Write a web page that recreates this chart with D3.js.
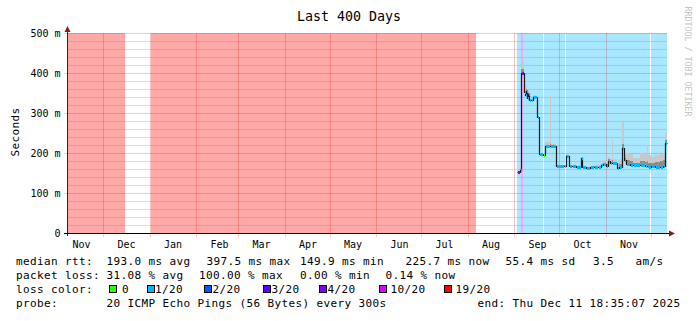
<!DOCTYPE html>
<html lang="en">
<head>
<meta charset="UTF-8" />
<title>Last 400 Days</title>
<script src="https://d3js.org/d3.v7.min.js"></script>
<style>
  body { margin: 0; background: #fff; }
  svg { display: block; font-family: "DejaVu Sans Mono", monospace; }
  .legend text { font-size: 11px; letter-spacing: 0.38px; fill: #000; }
</style>
</head>
<body>
<svg id="chart" width="697" height="321"></svg>
<script>
// time window of the graph
const rangeStart = '2024-11-06T18:35:07Z'
const rangeEnd = '2025-12-11T18:35:07Z'

// y axis (ms)
const yTicks = [0, 100, 200, 300, 400, 500]
const yTickLabels = ['0', '100 m', '200 m', '300 m', '400 m', '500 m']
const monthNames = ['Jan', 'Feb', 'Mar', 'Apr', 'May', 'Jun', 'Jul', 'Aug', 'Sep', 'Oct', 'Nov', 'Dec']

// loss colours (smokeping defaults)
const lossSteps = [0, 1, 2, 3, 4, 10, 19]
const lossKeys = ['0', '1/20', '2/20', '3/20', '4/20', '10/20', '19/20']
const lossColors = ['#26ff00', '#00b8ff', '#0059ff', '#5e00ff', '#7e00ff', '#dd00ff', '#ff0000']

// loss background spans (from, to, lost pings of 20)
const spanFrom = ['2024-11-06T18:35:07Z', '2025-01-01T18:35Z', '2025-09-02T13:45Z', '2025-09-05T10:40Z',
  '2025-09-06T23:00Z', '2025-09-21T02:30Z', '2025-10-05T13:40Z', '2025-12-01T10:40Z']
const spanTo = ['2024-12-15T10:40Z', '2025-08-06T10:40Z', '2025-09-05T10:40Z', '2025-09-06T23:00Z',
  '2025-09-20T10:30Z', '2025-10-04T21:40Z', '2025-11-30T18:35Z', '2025-12-11T18:35:07Z']
const spanLoss = [19, 19, 1, 10, 1, 1, 1, 1]

// median rtt steps (ms), smoke and loss per step
const medianTime = ['2025-09-02T13:45', '2025-09-04T18:30', '2025-09-05T18:30', '2025-09-07T02:40',
  '2025-09-08T02:40', '2025-09-08T18:30', '2025-09-09T10:30', '2025-09-10T02:40', '2025-09-10T18:30',
  '2025-09-12T02:40', '2025-09-13T15:20', '2025-09-16T02:40', '2025-09-17T10:30', '2025-09-20T10:30',
  '2025-09-21T10:30', '2025-09-24T18:30', '2025-09-25T10:30', '2025-09-28T23:20', '2025-10-04T00:00',
  '2025-10-05T10:30', '2025-10-07T02:40', '2025-10-09T10:30', '2025-10-12T02:40', '2025-10-15T05:45',
  '2025-10-16T02:40', '2025-10-18T18:30', '2025-10-21T10:30', '2025-10-24T02:40', '2025-10-26T18:30',
  '2025-10-28T18:30', '2025-10-30T02:40', '2025-11-01T02:40', '2025-11-02T10:30', '2025-11-03T18:30',
  '2025-11-04T21:50', '2025-11-05T18:30', '2025-11-08T05:45', '2025-11-09T23:20', '2025-11-11T23:20',
  '2025-11-13T07:20', '2025-11-14T10:30', '2025-11-17T02:40', '2025-11-19T00:00', '2025-11-23T18:30',
  '2025-11-27T02:40', '2025-11-28T05:45', '2025-11-29T02:40', '2025-12-01T10:30', '2025-12-03T18:30',
  '2025-12-07T02:40', '2025-12-09T07:20', '2025-12-10T05:45']
const medianMs = [152, 158, 399, 352, 345, 355, 338, 348, 333, 332, 341, 290, 197, 196, 218, 218, 218, 168, 168,
  193, 168, 167, 166, 187, 164, 163, 165, 166, 164, 170, 172, 168, 180, 174, 176, 174, 162, 166, 212,
  182, 172, 170, 169, 169, 167, 168, 166, 167, 166, 166, 167, 226]
const smokeMidMs = [153, 159, 410, 360, 350, 360, 343, 350, 335, 334, 343, 291, 198, 197, 220, 222, 220, 169, 169,
  194, 169, 168, 167, 188, 165, 164, 166, 167, 166, 172, 175, 172, 184, 178, 182, 178, 166, 172, 222,
  188, 182, 180, 176, 180, 178, 180, 176, 175, 178, 180, 182, 232]
const smokeMaxMs = [156, 162, 430, 385, 362, 370, 352, 358, 340, 336, 345, 292, 199, 198, 228, 342, 222, 170, 170,
  196, 170, 169, 169, 190, 167, 166, 168, 169, 170, 176, 182, 180, 190, 186, 232, 185, 175, 185, 278,
  200, 200, 198, 187, 200, 198, 220, 195, 190, 196, 198, 200, 250]
const medianLoss = [4, 1, 4, 1, 1, 1, 1, 1, 1, 1, 1, 1, 1, 0, 1, 1, 1, 1, 0,
  1, 1, 1, 1, 1, 1, 1, 1, 1, 1, 1, 1, 1, 1, 1, 1, 1, 1, 1, 1,
  1, 1, 1, 1, 1, 1, 1, 1, 1, 1, 1, 1, 1]

// legend rows
const legendRows = [
  [[16, 'median rtt:'], [106.5, '193.0 ms avg'], [206.5, '397.5 ms max'], [300, '149.9 ms min'],
   [405.5, '225.7 ms now'], [505.5, '55.4 ms sd'], [593, '3.5'], [635.5, 'am/s']],
  [[16, 'packet loss:'], [106.5, '31.08 % avg'], [199, '100.00 % max'], [300, '0.00 % min'], [385.5, '0.14 % now']],
  [[16, 'loss color:']],
  [[16, 'probe:'], [106.5, '20 ICMP Echo Pings (56 Bytes) every 300s'], [477.5, 'end: Thu Dec 11 18:35:07 2025']]
]
const keyBoxX = [109, 146.5, 204, 263, 319, 379, 444]
const keyTextX = [122, 155, 212.5, 271.5, 327.5, 390.5, 455.5]

const svg = d3.select('#chart')
const t0 = new Date(rangeStart), t1 = new Date(rangeEnd)
const x = d3.scaleUtc().domain([t0, t1]).range([67, 667])
const y = d3.scaleLinear().domain([0, 500]).range([233, 33])
const px = d => Math.round(x(d))
const lossColor = l => lossColors[lossSteps.indexOf(l)]

// loss background
svg.append('g').selectAll('rect')
  .data(spanLoss.map((l, i) => ({ a: new Date(spanFrom[i]), b: new Date(spanTo[i]), l })))
  .join('rect')
  .attr('x', d => px(d.a))
  .attr('width', d => px(d.b) - px(d.a))
  .attr('y', y(500))
  .attr('height', y(0) - y(500))
  .attr('fill', d => lossColor(d.l))
  .attr('fill-opacity', 0.34)
  .attr('shape-rendering', 'crispEdges')

// grid
const grid = svg.append('g').attr('shape-rendering', 'crispEdges')
grid.selectAll('line.minor')
  .data(d3.range(0, 501, 20).filter(v => v % 100 !== 0))
  .join('line')
  .attr('x1', 67).attr('x2', 667)
  .attr('y1', d => Math.round(y(d)) + 0.5).attr('y2', d => Math.round(y(d)) + 0.5)
  .attr('stroke', 'rgba(120,120,120,0.25)')
grid.selectAll('line.major')
  .data(yTicks)
  .join('line')
  .attr('x1', 64).attr('x2', 667)
  .attr('y1', d => Math.round(y(d)) + 0.5).attr('y2', d => Math.round(y(d)) + 0.5)
  .attr('stroke', 'rgba(220,0,0,0.22)')
const months = d3.utcMonths(d3.utcMonth.floor(t0), t1).filter(m => m > t0)
grid.selectAll('line.month')
  .data(months)
  .join('line')
  .attr('x1', d => px(d) + 0.5).attr('x2', d => px(d) + 0.5)
  .attr('y1', y(500)).attr('y2', 237)
  .attr('stroke', 'rgba(220,0,0,0.22)')

// smoke
const steps = medianTime.map((t, i) => ({
  a: new Date(t + 'Z'),
  b: i < medianTime.length - 1 ? new Date(medianTime[i + 1] + 'Z') : t1,
  v: medianMs[i], mid: smokeMidMs[i], max: smokeMaxMs[i], l: medianLoss[i]
}))
const smoke = svg.append('g').attr('shape-rendering', 'crispEdges')
smoke.selectAll('rect.hi')
  .data(steps)
  .join('rect')
  .attr('x', d => px(d.a)).attr('width', d => Math.max(1, px(d.b) - px(d.a)))
  .attr('y', d => y(d.max)).attr('height', d => y(d.v) - y(d.max))
  .attr('fill', '#c8c8c8')
smoke.selectAll('rect.mid')
  .data(steps)
  .join('rect')
  .attr('x', d => px(d.a)).attr('width', d => Math.max(1, px(d.b) - px(d.a)))
  .attr('y', d => y(d.mid)).attr('height', d => y(d.v) - y(d.mid))
  .attr('fill', '#8e8e8e')

// median line
const pts = steps.map(d => [d.a, d.v]).concat([[t1, medianMs[medianMs.length - 1]]])
svg.append('path')
  .attr('d', d3.line().x(d => px(d[0]) + 0.5).y(d => Math.round(y(d[1])) + 0.5).curve(d3.curveStepAfter)(pts))
  .attr('fill', 'none')
  .attr('stroke', '#1a1a1a')
  .attr('stroke-width', 1.2)

// loss coloured median bands
svg.append('g').attr('shape-rendering', 'crispEdges').selectAll('rect')
  .data(steps)
  .join('rect')
  .attr('x', d => px(d.a) + 1).attr('width', d => Math.max(1, px(d.b) - px(d.a) - 1))
  .attr('y', d => Math.round(y(d.v)) - 1).attr('height', 3)
  .attr('fill', d => lossColor(d.l))

// axes
const axis = svg.append('g')
axis.append('line').attr('x1', 67.5).attr('x2', 67.5).attr('y1', 236).attr('y2', 30)
  .attr('stroke', '#3a2020').attr('shape-rendering', 'crispEdges')
axis.append('line').attr('x1', 64).attr('x2', 670).attr('y1', 233.5).attr('y2', 233.5)
  .attr('stroke', '#000').attr('shape-rendering', 'crispEdges')
axis.append('path').attr('d', 'M67.5,26 L64.5,32 L70.5,32 Z').attr('fill', '#8b1a1a')
axis.append('path').attr('d', 'M675,233.5 L669,230.5 L669,236.5 Z').attr('fill', '#8b1a1a')

// y labels
svg.append('g').selectAll('text')
  .data(yTicks)
  .join('text')
  .attr('x', 60.5).attr('y', d => y(d) + 3.6)
  .attr('text-anchor', 'end')
  .attr('font-size', 10)
  .text((d, i) => yTickLabels[i])

// month labels
svg.append('g').selectAll('text')
  .data(d3.utcMonths(d3.utcMonth.floor(t0), t1)
    .map(m => ({ m, c: new Date(+m + 15.5 * 864e5) }))
    .filter(d => d.c > t0 && d.c < t1))
  .join('text')
  .attr('x', d => x(d.c)).attr('y', 247.5)
  .attr('text-anchor', 'middle')
  .attr('font-size', 10)
  .text(d => monthNames[d.m.getUTCMonth()])

// title, y title, watermark
svg.append('text').attr('x', 349).attr('y', 20.5).attr('text-anchor', 'middle')
  .attr('font-size', 13.3).text('Last 400 Days')
svg.append('text').attr('transform', 'translate(18.5,132) rotate(-90)')
  .attr('text-anchor', 'middle').attr('font-size', 11).attr('letter-spacing', 0.38)
  .text('Seconds')
svg.append('text').attr('transform', 'translate(684.5,6.5) rotate(90)')
  .attr('font-size', 8.3).attr('fill', '#c4c4c4')
  .text('RRDTOOL / TOBI OETIKER')

// legend
const legend = svg.append('g').attr('class', 'legend')
legendRows.forEach((row, r) => {
  legend.selectAll('text.r' + r)
    .data(row)
    .join('text')
    .attr('class', 'r' + r)
    .attr('x', d => d[0]).attr('y', 265 + r * 14)
    .text(d => d[1])
})
legend.selectAll('rect')
  .data(lossKeys)
  .join('rect')
  .attr('x', (d, i) => keyBoxX[i] + 0.5).attr('y', 285.5)
  .attr('width', 7).attr('height', 7)
  .attr('fill', (d, i) => lossColors[i])
  .attr('stroke', '#000')
  .attr('shape-rendering', 'crispEdges')
legend.selectAll('text.key')
  .data(lossKeys)
  .join('text')
  .attr('class', 'key')
  .attr('x', (d, i) => keyTextX[i]).attr('y', 293)
  .text(d => d)
</script>
</body>
</html>
